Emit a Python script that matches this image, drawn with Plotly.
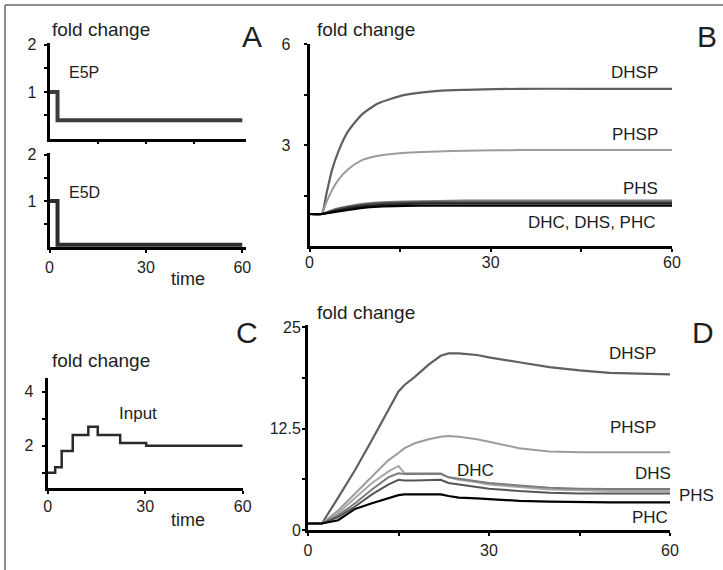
import plotly.graph_objects as go

W, H = 723, 570

# ---------------- data ----------------
# Panel A (step inputs)
a_time = [0, 2.5, 60]
e5p_vals = [1.0, 0.4, 0.4]
e5d_vals = [1.0, 0.05, 0.05]

# Panel B (response to step input)
b_time = [0, 2, 2.8, 3.7, 4.8, 6.4, 8.7, 11.4, 15.8, 21.3, 25.8, 35, 45, 60]
b_dhsp = [0.95, 0.95, 1.55, 2.24, 2.82, 3.41, 3.91, 4.24, 4.49, 4.61, 4.64, 4.67, 4.67, 4.67]
b_phsp = [0.95, 0.95, 1.30, 1.65, 1.97, 2.28, 2.55, 2.68, 2.77, 2.81, 2.83, 2.85, 2.85, 2.85]
b_phs = [0.95, 0.95, 1.00, 1.06, 1.12, 1.18, 1.25, 1.29, 1.32, 1.34, 1.35, 1.35, 1.35, 1.35]
b_dhs = [0.95, 0.95, 0.99, 1.04, 1.10, 1.16, 1.22, 1.26, 1.29, 1.30, 1.30, 1.30, 1.30, 1.30]
b_dhc = [0.95, 0.95, 0.98, 1.02, 1.06, 1.12, 1.18, 1.22, 1.25, 1.26, 1.26, 1.26, 1.26, 1.26]
b_phc = [0.95, 0.95, 0.97, 1.00, 1.03, 1.07, 1.13, 1.17, 1.19, 1.20, 1.20, 1.20, 1.20, 1.20]

# Panel C (input profile)
c_time = [0, 2.3, 4.3, 7.7, 12.5, 15.4, 22.3, 30.3, 60]
c_input = [1.0, 1.2, 1.8, 2.4, 2.7, 2.4, 2.1, 2.0, 2.0]

# Panel D (response to input profile)
d_time = [0, 2.3, 5, 7.8, 10.6, 13.3, 15, 16, 17.7, 20, 22, 23.3, 25, 28, 30, 35, 40, 45, 50, 60]
d_dhsp = [0.8, 0.8, 4.0, 7.4, 11.1, 14.8, 17.1, 17.9, 18.9, 20.4, 21.5, 21.8, 21.8, 21.6, 21.3, 20.7, 20.1, 19.7, 19.4, 19.2]
d_phsp = [0.8, 0.8, 2.4, 4.5, 6.5, 8.6, 9.5, 10.1, 10.7, 11.2, 11.5, 11.6, 11.5, 11.2, 10.9, 10.1, 9.7, 9.6, 9.6, 9.6]
d_dhc = [0.8, 0.8, 2.1, 3.9, 5.8, 7.2, 7.9, 7.0, 7.0, 7.0, 7.0, 6.5, 6.2, 5.9, 5.6, 5.3, 5.0, 4.9, 4.8, 4.8]
d_dhs = [0.8, 0.8, 1.8, 3.3, 5.0, 6.5, 7.0, 6.9, 6.9, 6.9, 6.9, 6.5, 6.3, 6.0, 5.8, 5.5, 5.2, 5.1, 5.05, 5.05]
d_phs = [0.8, 0.8, 1.6, 2.9, 4.4, 5.6, 6.2, 6.1, 6.1, 6.2, 6.2, 5.8, 5.6, 5.3, 5.1, 4.8, 4.6, 4.5, 4.5, 4.5]
d_phc = [0.8, 0.8, 1.2, 2.6, 3.3, 3.9, 4.3, 4.4, 4.4, 4.4, 4.4, 4.2, 4.0, 3.9, 3.8, 3.6, 3.5, 3.45, 3.4, 3.4]

# tick labels
a_x_ticks = [0, 30, 60]
a_y_ticks = [0.5, 1, 1.5, 2]
a_y_text = ["", "1", "", "2"]
b_x_ticks = [0, 15, 30, 45, 60]
b_x_text = ["0", "", "30", "", "60"]
b_y_ticks = [1.5, 3, 4.5, 6]
b_y_text = ["", "3", "", "6"]
c_y_ticks = [1, 2, 3, 4]
c_y_text = ["", "2", "", "4"]
d_y_ticks = [0, 6.25, 12.5, 18.75, 25]
d_y_text = ["0", "", "12.5", "", "25"]

# ---------------- helpers ----------------
FONT = "Liberation Sans, Arial, sans-serif"
TXT = "#1e1e1e"


def dx(p0, p1):
    return [p0 / W, p1 / W]


def dy(top, bottom):
    return [1 - bottom / H, 1 - top / H]


def axis_style(**kw):
    base = dict(showline=True, linecolor="black", linewidth=3, showgrid=False,
                zeroline=False, ticks="outside", ticklen=3, tickwidth=2,
                tickcolor="black", tickfont=dict(family=FONT, size=16, color=TXT),
                fixedrange=True, automargin=False)
    base.update(kw)
    return base


fig = go.Figure()


def line(x, y, xa, ya, color, width, shape="linear"):
    fig.add_trace(go.Scatter(x=x, y=y, xaxis=xa, yaxis=ya, mode="lines",
                             line=dict(color=color, width=width, shape=shape,
                                       smoothing=0.6 if shape == "spline" else None),
                             showlegend=False, hoverinfo="skip"))


# Panel A
line(a_time, e5p_vals, "x", "y", "#3c3c3c", 4, "hv")
line(a_time, e5d_vals, "x2", "y2", "#2c2c2c", 4, "hv")
# Panel B
line(b_time, b_dhsp, "x3", "y3", "#606060", 2.2, "spline")
line(b_time, b_phsp, "x3", "y3", "#9c9c9c", 2, "spline")
line(b_time, b_phs, "x3", "y3", "#7a7a7a", 2, "spline")
line(b_time, b_dhs, "x3", "y3", "#4a4a4a", 2, "spline")
line(b_time, b_dhc, "x3", "y3", "#262626", 2, "spline")
line(b_time, b_phc, "x3", "y3", "#000000", 2.2, "spline")
# Panel C
line(c_time, c_input, "x4", "y4", "#2a2a2a", 2.5, "hv")
# Panel D
line(d_time, d_dhsp, "x5", "y5", "#606060", 2.2)
line(d_time, d_phsp, "x5", "y5", "#9c9c9c", 2)
line(d_time, d_dhc, "x5", "y5", "#a8a8a8", 2)
line(d_time, d_dhs, "x5", "y5", "#7c7c7c", 2)
line(d_time, d_phs, "x5", "y5", "#555555", 2)
line(d_time, d_phc, "x5", "y5", "#000000", 2.2)

layout = dict(
    width=W, height=H, autosize=False,
    margin=dict(l=0, r=0, t=0, b=0, pad=0),
    paper_bgcolor="white", plot_bgcolor="white",
    showlegend=False,
    # A top
    xaxis=axis_style(domain=dx(49.5, 245.5), range=[0, 61], anchor="y",
                     tickvals=[15, 30, 45], showticklabels=False, linewidth=2.5, ticklen=2),
    yaxis=axis_style(domain=dy(43, 139), range=[0, 2.04], anchor="x",
                     tickvals=a_y_ticks, ticktext=a_y_text, ticklabelstandoff=4),
    # A bottom
    xaxis2=axis_style(domain=dx(49.5, 245.5), range=[0, 61], anchor="y2",
                      tickvals=a_x_ticks, ticklabelstandoff=1),
    yaxis2=axis_style(domain=dy(153, 247), range=[0, 2.04], anchor="x2",
                      tickvals=a_y_ticks, ticktext=a_y_text, ticklabelstandoff=4),
    # B
    xaxis3=axis_style(domain=dx(309.5, 672), range=[0, 60], anchor="y3",
                      tickvals=b_x_ticks, ticktext=b_x_text, ticklabelstandoff=-3),
    yaxis3=axis_style(domain=dy(44, 246), range=[0, 6], anchor="x3",
                      tickvals=b_y_ticks, ticktext=b_y_text, ticklabelstandoff=10),
    # C
    xaxis4=axis_style(domain=dx(47.7, 242.7), range=[0, 60], anchor="y4",
                      tickvals=a_x_ticks, ticklabelstandoff=-2),
    yaxis4=axis_style(domain=dy(378.3, 488.3), range=[0.42, 4.5], anchor="x4",
                      tickvals=c_y_ticks, ticktext=c_y_text, ticklabelstandoff=5),
    # D
    xaxis5=axis_style(domain=dx(308, 670), range=[0, 60], anchor="y5",
                      tickvals=b_x_ticks, ticktext=b_x_text, ticklabelstandoff=1),
    yaxis5=axis_style(domain=dy(325, 530), range=[0, 25.3], anchor="x5",
                      tickvals=d_y_ticks, ticktext=d_y_text, ticklabelstandoff=-2),
)
fig.update_layout(**layout)

# frame lines (top and left) around the figure
fig.add_shape(type="line", xref="paper", yref="paper",
              x0=5 / W, x1=1, y0=1 - 5 / H, y1=1 - 5 / H,
              line=dict(color="#6a6a6a", width=1.5))
fig.add_shape(type="line", xref="paper", yref="paper",
              x0=5 / W, x1=5 / W, y0=0, y1=1 - 5 / H,
              line=dict(color="#6a6a6a", width=1.5))

# text annotations (pixel positions)
texts = [
    # text, x, y, xanchor, size
    ("fold change", 50, 30, "left", 19),
    ("A", 252, 37, "center", 30),
    ("E5P", 67, 73, "left", 16),
    ("E5D", 67, 193, "left", 16),
    ("time", 188, 279, "center", 18),
    ("fold change", 315, 30, "left", 19),
    ("B", 707, 37, "center", 30),
    ("DHSP", 660, 73, "right", 17),
    ("PHSP", 660, 135, "right", 17),
    ("PHS", 660, 188, "right", 17),
    ("DHC, DHS, PHC", 658, 222, "right", 17),
    ("fold change", 50, 360, "left", 19),
    ("C", 247, 332, "center", 30),
    ("Input", 117, 413, "left", 17),
    ("time", 188, 520, "center", 18),
    ("fold change", 315, 312, "left", 19),
    ("D", 703, 332, "center", 30),
    ("DHSP", 658, 353, "right", 17),
    ("PHSP", 658, 427, "right", 17),
    ("DHC", 455, 470, "left", 17),
    ("DHS", 673, 473, "right", 17),
    ("PHS", 677, 495, "left", 17),
    ("PHC", 670, 517, "right", 17),
]
for t, x, y, xa, s in texts:
    fig.add_annotation(text=t, x=x / W, y=1 - y / H, xref="paper", yref="paper",
                       xanchor=xa, yanchor="middle", showarrow=False,
                       font=dict(family=FONT, size=s, color=TXT))

fig.write_html("out.html", config={"displayModeBar": False},
               post_script="document.body.style.margin='0px';document.body.style.overflow='hidden';")
